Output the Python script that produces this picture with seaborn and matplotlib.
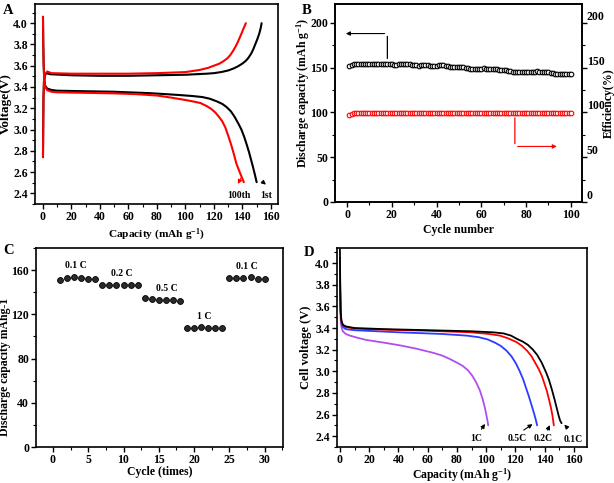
import numpy as np
import pandas as pd
import matplotlib
matplotlib.use("Agg")
import matplotlib.pyplot as plt
import seaborn as sns
from matplotlib.ticker import MultipleLocator, FormatStrFormatter

# ---------------- data ----------------
# Panel A: charge / discharge profiles, 1st and 100th cycle
a_ch1_cap = [0, 0.15, 0.35, 0.7, 1.3, 2.5, 5, 20, 40, 60, 80, 100, 115, 120, 125, 130, 134, 137,
             140, 142.3, 144, 146, 147.5, 149, 150.5, 151.8, 152.8, 153.5]
a_ch1_v = [2.74, 3.00, 3.30, 3.45, 3.51, 3.53, 3.52, 3.51, 3.505, 3.505, 3.51, 3.515, 3.525, 3.53, 3.54,
           3.555, 3.575, 3.595, 3.62, 3.645, 3.67, 3.71, 3.75, 3.80, 3.85, 3.90, 3.95, 4.00]
a_dis1_cap = [0, 0.2, 0.5, 0.9, 1.6, 3, 6, 10, 30, 50, 75, 95, 105, 112, 117, 122, 126, 129, 132,
              134.5, 137, 139.3, 141.3, 143, 144.6, 146, 147.4, 148.7, 150]
a_dis1_v = [4.06, 3.80, 3.60, 3.47, 3.41, 3.385, 3.372, 3.365, 3.36, 3.355, 3.342, 3.325, 3.315, 3.305,
            3.29, 3.265, 3.24, 3.21, 3.17, 3.12, 3.06, 3.00, 2.93, 2.86, 2.79, 2.72, 2.65, 2.58, 2.505]
a_ch100_cap = [0, 0.15, 0.35, 0.7, 1.3, 3, 6, 20, 40, 60, 80, 100, 110, 116, 120, 124, 127, 129.5,
               131.5, 133.5, 135.2, 136.7, 138, 139.3, 140.5, 141.5, 142.4]
a_ch100_v = [2.74, 3.00, 3.30, 3.46, 3.52, 3.545, 3.53, 3.525, 3.525, 3.525, 3.53, 3.54, 3.56, 3.58,
             3.60, 3.62, 3.645, 3.67, 3.70, 3.74, 3.78, 3.82, 3.86, 3.90, 3.94, 3.97, 4.00]
a_dis100_cap = [0, 0.2, 0.5, 0.9, 1.6, 3, 6, 10, 30, 50, 65, 80, 90, 99, 105, 110.6, 115, 118, 121,
                123.5, 125.8, 128, 130.5, 132.5, 134.2, 135.8, 137.5, 139.3, 141]
a_dis100_v = [4.06, 3.80, 3.60, 3.46, 3.40, 3.37, 3.355, 3.35, 3.345, 3.34, 3.333, 3.32, 3.30, 3.28,
              3.265, 3.249, 3.22, 3.195, 3.16, 3.12, 3.079, 3.02, 2.924, 2.84, 2.76, 2.68, 2.62, 2.56, 2.505]

# Panel B: cycling
b_cycle = list(range(1, 101))
b_capacity = [152.2, 153.0, 153.6, 153.8, 153.9, 154.0, 154.0, 154.1, 154.2, 154.3,
              154.4, 154.2, 154.0, 153.9, 153.8, 153.7, 153.6, 153.6, 153.5, 153.5,
              153.4, 153.4, 153.5, 153.7, 153.9, 154.0, 153.8, 153.6, 153.4, 153.2,
              152.6, 152.3, 152.8, 153.1, 152.9, 152.6, 152.3, 152.1, 151.9, 151.8,
              152.5, 152.9, 152.8, 152.2, 151.6, 151.1, 150.7, 150.4, 150.6, 150.9,
              151.0, 150.6, 150.1, 149.5, 149.0, 148.6, 148.2, 147.9, 148.3, 148.8,
              149.1, 149.0, 148.7, 148.5, 148.3, 148.1, 147.9, 147.6, 147.4, 147.2,
              146.8, 146.3, 146.0, 145.6, 145.3, 145.0, 144.9, 145.0, 145.2, 145.3,
              145.4, 145.4, 145.5, 145.6, 145.7, 145.6, 145.4, 145.2, 145.0, 144.9,
              144.5, 143.9, 143.4, 143.0, 142.8, 142.7, 142.7, 142.8, 142.9, 143.0]
b_efficiency = [97.6, 98.4, 98.8, 99.0, 99.1, 99.2, 99.3, 99.3, 99.2, 99.3,
                99.4, 99.3, 99.3, 99.2, 99.3, 99.4, 99.3, 99.2, 99.3, 99.4,
                99.4, 99.3, 99.4, 99.4, 99.3, 99.4, 99.5, 99.4, 99.3, 99.4,
                99.4, 99.5, 99.4, 99.4, 99.3, 99.4, 99.5, 99.4, 99.4, 99.5,
                99.5, 99.4, 99.5, 99.5, 99.4, 99.5, 99.6, 99.5, 99.5, 99.6,
                99.5, 99.5, 99.6, 99.5, 99.5, 99.6, 99.5, 99.6, 99.6, 99.5,
                99.6, 99.5, 99.5, 99.6, 99.6, 99.5, 99.6, 99.6, 99.5, 99.6,
                99.6, 99.5, 99.6, 99.6, 99.6, 99.5, 99.6, 99.6, 99.6, 99.5,
                99.6, 99.6, 99.6, 99.5, 99.6, 99.6, 99.6, 99.6, 99.5, 99.6,
                99.6, 99.6, 99.6, 99.5, 99.6, 99.6, 99.6, 99.6, 99.6, 99.6]

# Panel C: rate capability
c_cycle = list(range(1, 31))
c_capacity = [151.5, 153.0, 153.4, 152.8, 151.9, 152.2,
              146.1, 146.7, 146.7, 146.4, 146.4, 146.4,
              134.9, 134.0, 133.4, 133.1, 132.8, 132.2,
              107.8, 107.5, 108.1, 107.2, 107.8, 107.8,
              152.5, 152.5, 152.5, 153.4, 151.9, 151.9]
c_rate_labels = ["0.1 C", "0.2 C", "0.5 C", "1 C", "0.1 C"]
c_label_x = [3.3, 9.7, 16.1, 21.4, 27.5]
c_label_y = [164, 157, 143, 118, 163]

# Panel D: discharge curves at different rates
d_01_cap = [0, 0.2, 0.5, 1, 2, 4, 10, 30, 60, 90, 105, 112, 117, 121, 125, 128.5, 132, 135, 138,
            141, 143, 145, 146.8, 148.3, 149.6, 150.6, 151.6]
d_01_v = [4.13, 3.80, 3.55, 3.47, 3.43, 3.415, 3.40, 3.39, 3.38, 3.37, 3.36, 3.35, 3.33, 3.30, 3.275,
          3.245, 3.20, 3.15, 3.08, 2.99, 2.92, 2.83, 2.74, 2.66, 2.59, 2.545, 2.52]
d_02_cap = [0, 0.2, 0.5, 1, 2, 4, 10, 30, 60, 90, 102, 109.4, 115, 120.8, 124.5, 128, 131, 133.5,
            136, 138, 139.8, 141.5, 143, 144.4, 145.5, 146.3]
d_02_v = [3.95, 3.75, 3.55, 3.46, 3.425, 3.41, 3.395, 3.385, 3.375, 3.36, 3.345, 3.33, 3.305, 3.27,
          3.235, 3.19, 3.14, 3.08, 3.02, 2.96, 2.89, 2.82, 2.74, 2.66, 2.58, 2.50]
d_05_cap = [0, 0.2, 0.5, 1, 2, 4, 10, 41, 70, 86.6, 95, 101, 106, 110, 114, 117.5, 120.5, 123,
            125.2, 127.2, 129.2, 131, 132.8, 134, 134.9]
d_05_v = [4.05, 3.75, 3.55, 3.45, 3.41, 3.39, 3.38, 3.36, 3.345, 3.33, 3.315, 3.295, 3.265, 3.235,
          3.19, 3.135, 3.07, 3.00, 2.93, 2.85, 2.77, 2.69, 2.61, 2.55, 2.50]
d_1_cap = [0, 0.2, 0.5, 1, 2, 4, 6.8, 12, 18, 30, 41, 52, 64, 70, 75, 80, 84, 87.5, 90.5, 93.5,
           95.8, 97.7, 99.2, 100.4, 101.1, 101.4]
d_1_v = [3.78, 3.60, 3.48, 3.41, 3.37, 3.345, 3.33, 3.31, 3.29, 3.265, 3.24, 3.21, 3.17, 3.145,
         3.115, 3.08, 3.05, 3.01, 2.96, 2.89, 2.82, 2.74, 2.66, 2.58, 2.53, 2.50]
d_rate_labels = ["1C", "0.5C", "0.2C", "0.1C"]

# ---------------- style ----------------
sns.set_theme(style="ticks")
plt.rcParams.update({
    "font.family": ["Liberation Serif", "DejaVu Serif"],
    "font.weight": "bold",
    "axes.labelweight": "bold",
    "font.size": 8,
    "axes.labelsize": 8.5,
    "xtick.labelsize": 8.5,
    "ytick.labelsize": 8.5,
    "mathtext.fontset": "custom",
    "mathtext.rm": "Liberation Serif:bold",
    "mathtext.bf": "Liberation Serif:bold",
    "mathtext.it": "Liberation Serif:bold",
    "mathtext.default": "bf",
    "axes.linewidth": 1.2,
    "axes.edgecolor": "black",
    "xtick.color": "black",
    "ytick.color": "black",
    "text.color": "black",
    "axes.labelcolor": "black",
})

fig = plt.figure(figsize=(6.14, 4.83), dpi=100)
W, H = 614, 483


def pos(l, r, t, b):
    return [l / W, 1 - b / H, (r - l) / W, (b - t) / H]


def style_ticks(ax, xmaj, xmin, ymaj, ymin):
    ax.xaxis.set_major_locator(MultipleLocator(xmaj))
    ax.xaxis.set_minor_locator(MultipleLocator(xmin))
    ax.yaxis.set_major_locator(MultipleLocator(ymaj))
    ax.yaxis.set_minor_locator(MultipleLocator(ymin))
    ax.tick_params(which="major", direction="out", length=3.5, width=1.0, pad=1.5)
    ax.tick_params(which="minor", direction="out", length=2, width=0.8)
    ax.tick_params(top=False, right=False, which="both")
    for s in ax.spines.values():
        s.set_linewidth(1.2)
        s.set_color("black")


arrow_k = dict(arrowstyle="-|>", lw=0.8, mutation_scale=6)

# ---------------- Panel A ----------------
axA = fig.add_axes(pos(35, 278, 4, 204))
for cap, v, col in [(a_ch1_cap, a_ch1_v, "black"), (a_dis1_cap, a_dis1_v, "black"),
                    (a_ch100_cap, a_ch100_v, "red"), (a_dis100_cap, a_dis100_v, "red")]:
    sns.lineplot(x=cap, y=v, ax=axA, color=col, sort=False, estimator=None, lw=1.5)
axA.set_xlim(-5.6, 165)
axA.set_ylim(2.30, 4.18)
style_ticks(axA, 20, 10, 0.2, 0.1)
axA.yaxis.set_major_formatter(FormatStrFormatter("%.1f"))
axA.set_xlabel("Capacity (mAh g$^{-1}$)", fontsize=8.2)
axA.set_ylabel("Voltage(V)", fontsize=9.5)
axA.xaxis.set_label_coords(0.5, -0.115)
axA.yaxis.set_label_coords(-0.095, 0.5)
axA.annotate("", xy=(135.9, 2.465), xytext=(139.9, 2.567),
             arrowprops=dict(color="red", **arrow_k))
axA.annotate("", xy=(158, 2.465), xytext=(152.3, 2.53),
             arrowprops=dict(color="black", **arrow_k))
axA.text(137.7, 2.38, "100th", ha="center", va="center", fontsize=7)
axA.text(157, 2.38, "1st", ha="center", va="center", fontsize=7)
fig.text(8 / W, 1 - 11 / H, "A", fontsize=10.5, fontweight="bold", ha="center", va="center")

# ---------------- Panel B ----------------
axB = fig.add_axes(pos(335, 582, 4, 202))
dfB = pd.DataFrame({"cycle": b_cycle, "capacity": b_capacity, "efficiency": b_efficiency})
sns.scatterplot(data=dfB, x="cycle", y="capacity", ax=axB, marker="o", s=11,
                facecolor="white", edgecolor="black", linewidth=0.8, zorder=3)
axB.set_xlim(-5.4, 105)
axB.set_ylim(0, 221)
style_ticks(axB, 20, 10, 50, 25)
axB.set_xlabel("Cycle number")
axB.set_ylabel("Discharge capacity (mAh g$^{-1}$)")
axB.xaxis.set_label_coords(0.5, -0.11)
axB.yaxis.set_label_coords(-0.095, 0.55)
axB2 = axB.twinx()
sns.scatterplot(data=dfB, x="cycle", y="efficiency", ax=axB2, marker="o", s=11,
                facecolor="white", edgecolor="red", linewidth=0.8, zorder=3)
axB2.set_ylim(0, 221)
axB2.yaxis.set_major_locator(MultipleLocator(50))
axB2.yaxis.set_minor_locator(MultipleLocator(25))
axB2.tick_params(which="major", direction="out", length=3.5, width=1.0, pad=0, right=True, left=False)
axB2.tick_params(which="minor", direction="out", length=2, width=0.8, right=True, left=False)
for lab in axB2.get_yticklabels():
    lab.set_verticalalignment("bottom")
axB2.set_ylabel("Efficiency(%)")
axB2.yaxis.set_label_coords(1.085, 0.5)
for s in axB2.spines.values():
    s.set_linewidth(1.2)
# bent arrows
axB.annotate("", xy=(18, 188), xytext=(18, 157), arrowprops=dict(arrowstyle="-", lw=0.9, color="black"))
axB.annotate("", xy=(-1.8, 188), xytext=(18, 188), arrowprops=dict(color="black", **arrow_k))
axB2.annotate("", xy=(75, 62), xytext=(75, 97), arrowprops=dict(arrowstyle="-", lw=0.9, color="red"))
axB2.annotate("", xy=(95, 62), xytext=(75, 62), arrowprops=dict(color="red", **arrow_k))
fig.text(307 / W, 1 - 11 / H, "B", fontsize=10.5, fontweight="bold", ha="center", va="center")

# ---------------- Panel C ----------------
axC = fig.add_axes(pos(36, 283, 248, 447))
dfC = pd.DataFrame({"cycle": c_cycle, "capacity": c_capacity})
sns.scatterplot(data=dfC, x="cycle", y="capacity", ax=axC, marker="o", s=18,
                color="#2a2a2a", edgecolor="black", linewidth=0.6, zorder=3)
axC.set_xlim(-2.4, 32.6)
axC.set_ylim(0, 180)
style_ticks(axC, 5, 2.5, 40, 20)
for lab, x, y in zip(c_rate_labels, c_label_x, c_label_y):
    axC.text(x, y, lab, ha="center", va="center", fontsize=7)
axC.set_xlabel("Cycle (times)")
axC.set_ylabel("Discharge capacity mAhg-1")
axC.xaxis.set_label_coords(0.5, -0.095)
axC.yaxis.set_label_coords(-0.1, 0.40)
fig.text(9 / W, 1 - 251 / H, "C", fontsize=10.5, fontweight="bold", ha="center", va="center")

# ---------------- Panel D ----------------
axD = fig.add_axes(pos(337, 587, 248, 447))
for cap, v, col in [(d_1_cap, d_1_v, "#b04ef0"), (d_05_cap, d_05_v, "#2a3cff"),
                    (d_02_cap, d_02_v, "#ff0000"), (d_01_cap, d_01_v, "black")]:
    sns.lineplot(x=cap, y=v, ax=axD, color=col, sort=False, estimator=None, lw=1.3)
axD.set_xlim(-2, 169)
axD.set_ylim(2.30, 4.14)
style_ticks(axD, 20, 10, 0.2, 0.1)
axD.yaxis.set_major_formatter(FormatStrFormatter("%.1f"))
d_text = [(93.5, 2.375), (121, 2.375), (138.8, 2.375), (159.3, 2.37)]
d_tail = [(95.7, 2.442), (124.2, 2.442), (141.3, 2.433), (156.8, 2.458)]
d_head = [(100.3, 2.535), (133.3, 2.526), (144.3, 2.526), (152.2, 2.526)]
for lab, t, tl, hd in zip(d_rate_labels, d_text, d_tail, d_head):
    axD.text(t[0], t[1], lab, ha="center", va="center", fontsize=7)
    axD.annotate("", xy=hd, xytext=tl, arrowprops=dict(color="black", **arrow_k))
axD.set_xlabel("Capacity (mAh g$^{-1}$)")
axD.set_ylabel("Cell voltage (V)", fontsize=9)
axD.xaxis.set_label_coords(0.5, -0.095)
axD.yaxis.set_label_coords(-0.1, 0.5)
fig.text(309 / W, 1 - 252 / H, "D", fontsize=10.5, fontweight="bold", ha="center", va="center")

fig.savefig("out.png", dpi=100)
